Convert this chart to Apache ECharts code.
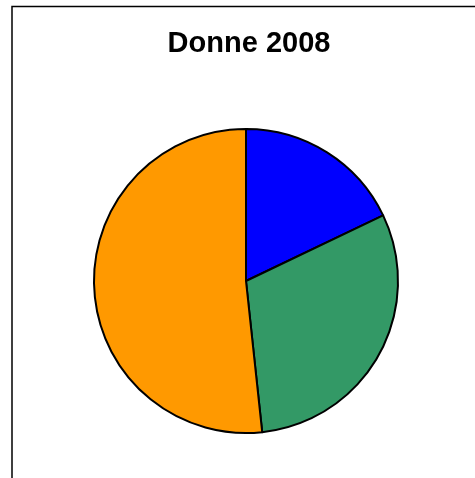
<!DOCTYPE html>
<html>
<head>
<meta charset="utf-8">
<script src="https://cdn.jsdelivr.net/npm/echarts@6/dist/echarts.min.js"></script>
<style>html,body{margin:0;padding:0;background:#fff}#c{width:475px;height:478px}</style>
</head>
<body>
<div id="c"></div>
<script>
const titleText = 'Donne 2008';
const categories = ['A', 'B', 'C'];
const values = [17.9, 30.4, 51.7];
const colors = ['#0000FF', '#339966', '#FF9900'];

const chart = echarts.init(document.getElementById('c'), null, {renderer: 'canvas'});
chart.setOption({
  animation: false,
  backgroundColor: '#fff',
  graphic: [{
    type: 'rect', z: 100, silent: true,
    shape: {x: 12, y: 6.5, width: 500, height: 500},
    style: {fill: 'none', stroke: '#000', lineWidth: 1.5}
  }, {
    type: 'text', z: 100, silent: true,
    style: {
      text: titleText, x: 249, y: 44, align: 'center', verticalAlign: 'middle',
      font: 'bold 29px "Liberation Sans", Arial, sans-serif', fill: '#000'
    }
  }],
  series: [{
    type: 'pie',
    center: [246, 281],
    radius: 152,
    startAngle: 90,
    clockwise: true,
    label: {show: false},
    labelLine: {show: false},
    emphasis: {disabled: true},
    itemStyle: {borderColor: '#000', borderWidth: 2},
    data: categories.map((c, i) => ({name: c, value: values[i], itemStyle: {color: colors[i]}}))
  }]
});
</script>
</body>
</html>
